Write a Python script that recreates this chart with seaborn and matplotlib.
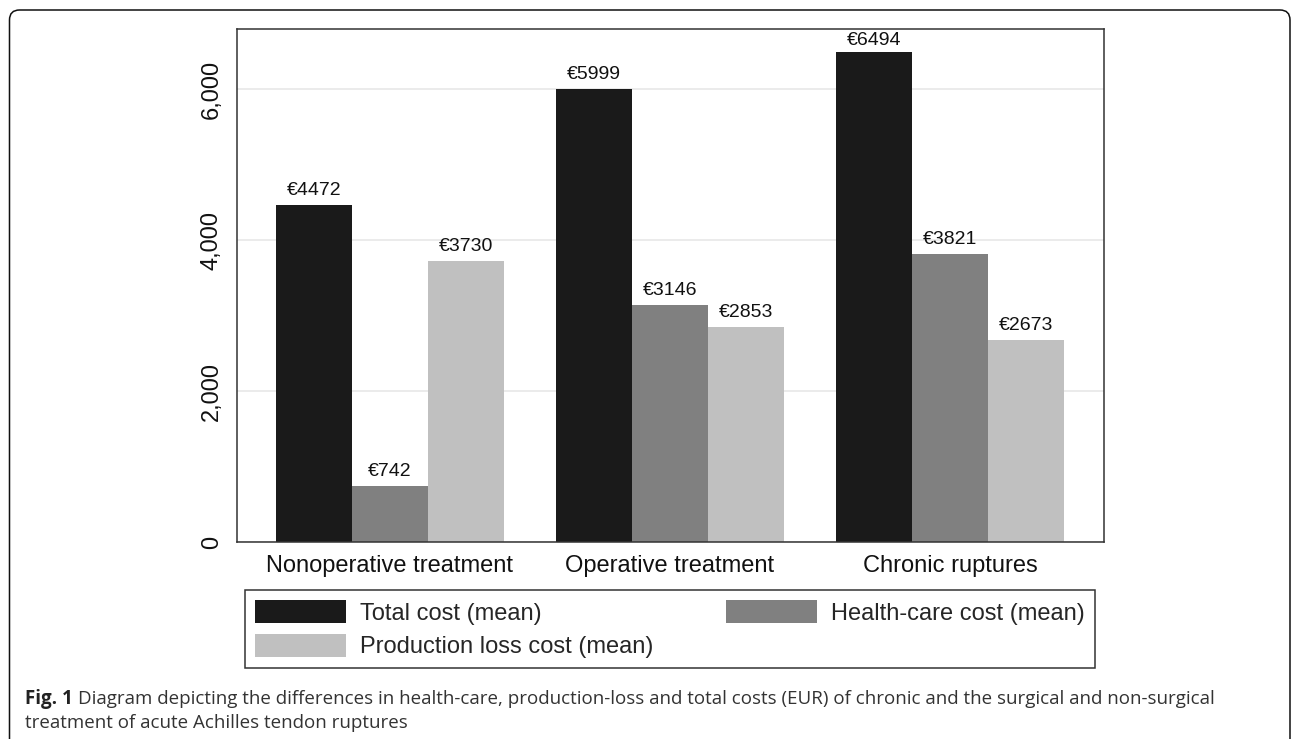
import numpy as np
import pandas as pd
import seaborn as sns
import matplotlib.pyplot as plt
from matplotlib.patches import FancyBboxPatch
from matplotlib.transforms import IdentityTransform

# Data
categories = ['Nonoperative treatment', 'Operative treatment', 'Chronic ruptures']
series = ['Total cost (mean)', 'Health-care cost (mean)', 'Production loss cost (mean)']
total_cost = [4472, 5999, 6494]
health_care_cost = [742, 3146, 3821]
production_loss_cost = [3730, 2853, 2673]
y_ticks = [0, 2000, 4000, 6000]
y_tick_labels = ['0', '2,000', '4,000', '6,000']
colors = ['#1a1a1a', '#808080', '#c0c0c0']

caption_bold = 'Fig. 1'
caption_line1 = ('Diagram depicting the differences in health-care, production-loss and total costs (EUR) '
                 'of chronic and the surgical and non-surgical')
caption_line2 = 'treatment of acute Achilles tendon ruptures'

df = pd.DataFrame({
    'group': categories * 3,
    'cost_type': np.repeat(series, len(categories)),
    'cost': total_cost + health_care_cost + production_loss_cost,
})

sns.set_style('white')
plt.rcParams['font.family'] = ['Liberation Sans', 'DejaVu Sans']

W, H = 1292, 739
fig = plt.figure(figsize=(W / 100, H / 100), dpi=100)
ax = fig.add_axes([237 / W, 1 - 542 / H, (1104 - 237) / W, (542 - 29) / H])

sns.barplot(data=df, x='group', y='cost', hue='cost_type', order=categories, hue_order=series,
            palette=colors, saturation=1, width=0.815, linewidth=0, ax=ax)
handles, labels = ax.get_legend_handles_labels()
ax.get_legend().remove()

ax.set_xlim(-0.546, 2.55)
ax.set_ylim(0, 6800)

# value labels on top of bars
bar_texts = []
for cont in ax.containers:
    bar_texts += ax.bar_label(cont, labels=[f'€{v:.0f}' for v in cont.datavalues],
                              padding=4.3, fontsize=14, color='#111')

ax.set_yticks(y_ticks, y_tick_labels)
plt.setp(ax.get_yticklabels(), rotation=90, va='center')
ax.tick_params(axis='y', length=7.2, width=1.1, color='#333', pad=3, labelsize=17, labelcolor='#111')
ax.tick_params(axis='x', length=0, pad=9.4, labelsize=17, labelcolor='#111')
ax.set_xlabel('')
ax.set_ylabel('')
ax.yaxis.grid(True, color='#e6e6e6', lw=1.1)
ax.set_axisbelow(True)
for s in ax.spines.values():
    s.set_visible(True)
    s.set_color('#333')
    s.set_linewidth(1.1)

# legend: row-wise order Total, Health-care / Production loss
order = [0, 2, 1]
leg = fig.legend([handles[i] for i in order], [labels[i] for i in order], ncol=2, mode='expand',
                 loc='upper left', bbox_to_anchor=(245 / W, 1 - 668 / H, 850 / W, 78 / H),
                 bbox_transform=fig.transFigure, fontsize=17, frameon=True, fancybox=False,
                 edgecolor='#333', framealpha=1, handlelength=3.85, handleheight=1.15,
                 handletextpad=0.6, borderpad=0.42, labelspacing=0.38, borderaxespad=0)
leg.get_frame().set_linewidth(1.1)

# rounded outer frame of the figure panel
frame = FancyBboxPatch((9.5, -30), 1280.5, H - 10 + 30, boxstyle='round,pad=0,rounding_size=10',
                       transform=IdentityTransform(), fill=False, ec='#111', lw=1.1)
fig.add_artist(frame)

# caption
cap_font = ['Open Sans', 'DejaVu Sans']
b = fig.text(25 / W, 1 - 704 / H, caption_bold, fontweight='bold', family=cap_font,
             fontsize=13.5, va='baseline', color='#222')
fig.canvas.draw()
renderer = fig.canvas.get_renderer()
bb = b.get_window_extent(renderer)
fig.text((bb.x1 + 5) / W, 1 - 704 / H, caption_line1, family=cap_font, fontsize=13.5,
         va='baseline', color='#333')
fig.text(25 / W, 1 - 728 / H, caption_line2, family=cap_font, fontsize=13.5,
         va='baseline', color='#333')

# keep bar labels inside the plot region (pushed down if they would hit the top frame)
ax_top = ax.get_window_extent(renderer).y1
for t in bar_texts:
    over = t.get_window_extent(renderer).y1 - (ax_top - 3)
    if over > 0:
        dx, dy = t.xyann
        t.xyann = (dx, dy - over * 72 / 100)

fig.savefig('out.png', dpi=100)
